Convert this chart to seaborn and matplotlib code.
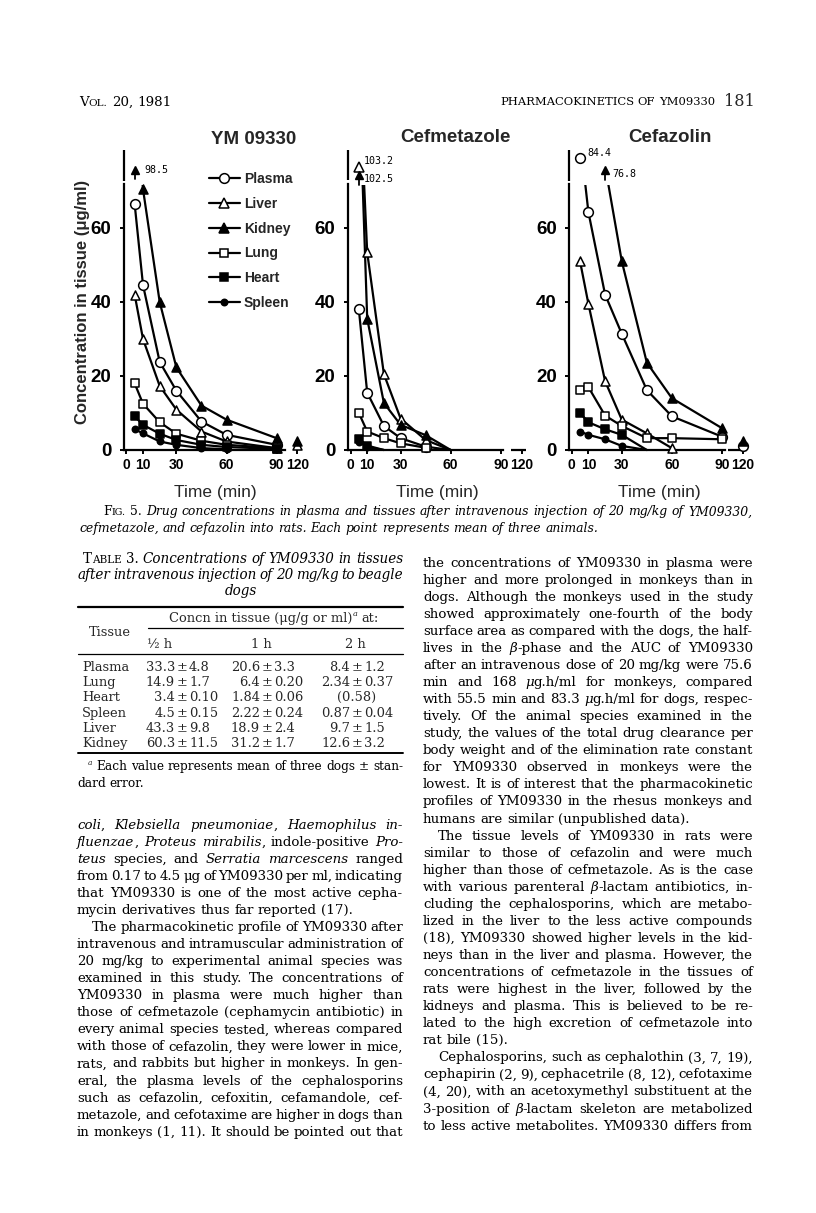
import re
import numpy as np
import pandas as pd
import matplotlib
matplotlib.use("Agg")
import matplotlib.pyplot as plt
from matplotlib.lines import Line2D
from matplotlib.patches import Rectangle
from matplotlib import font_manager
import seaborn as sns

# ------------------------------------------------------------------ data
times = [5, 10, 20, 30, 45, 60, 90, 120]
tissues = ["Plasma", "Liver", "Kidney", "Lung", "Heart", "Spleen"]
nan = np.nan

ym_plasma = [66.5, 44.6, 23.8, 16.0, 7.7, 4.1, 1.4, nan]
ym_liver = [42.0, 30.0, 17.3, 10.9, 5.0, 2.3, 0.5, 1.4]
ym_kidney = [98.5, 70.5, 40.0, 22.3, 12.0, 8.2, 3.2, 2.5]
ym_lung = [18.0, 12.5, 7.5, 4.4, 2.5, 1.4, 0.5, nan]
ym_heart = [9.1, 6.8, 4.4, 2.7, 1.4, 0.8, 0.3, nan]
ym_spleen = [5.6, 4.5, 2.3, 1.4, 0.5, 0.2, nan, nan]

cmz_plasma = [38.0, 15.5, 6.5, 3.2, 0.9, 0.0, nan, nan]
cmz_liver = [103.2, 53.4, 20.5, 8.5, 2.7, 0.0, nan, nan]
cmz_kidney = [102.5, 35.5, 12.7, 6.8, 4.0, 0.0, nan, nan]
cmz_lung = [10.0, 5.0, 3.2, 1.8, 0.6, nan, nan, nan]
cmz_heart = [3.0, 1.2, 0.0, nan, nan, nan, nan, nan]
cmz_spleen = [2.2, 0.8, 0.0, nan, nan, nan, nan, nan]

cfz_plasma = [84.4, 64.3, 42.0, 31.4, 16.2, 9.1, 3.6, 1.1]
cfz_liver = [51.0, 39.5, 18.6, 8.2, 4.5, 0.5, nan, nan]
cfz_kidney = [nan, nan, 76.8, 51.0, 23.6, 14.0, 5.9, 2.3]
cfz_lung = [16.2, 17.0, 9.3, 6.5, 3.2, 3.2, 2.9, nan]
cfz_heart = [10.0, 7.5, 5.6, 4.1, 0.0, nan, nan, nan]
cfz_spleen = [5.0, 4.1, 2.9, 1.1, 0.0, nan, nan, nan]

panel_titles = ["YM 09330", "Cefmetazole", "Cefazolin"]
panel_data = [
    dict(zip(tissues, [ym_plasma, ym_liver, ym_kidney, ym_lung, ym_heart, ym_spleen])),
    dict(zip(tissues, [cmz_plasma, cmz_liver, cmz_kidney, cmz_lung, cmz_heart, cmz_spleen])),
    dict(zip(tissues, [cfz_plasma, cfz_liver, cfz_kidney, cfz_lung, cfz_heart, cfz_spleen])),
]
x_ticks = [0, 10, 30, 60, 90, 120]
y_ticks = [0, 20, 40, 60]

tbl_rows = ["Plasma", "Lung", "Heart", "Spleen", "Liver", "Kidney"]
tbl_cols = ["½ h", "1 h", "2 h"]
tbl_half = ["33.3 ± 4.8", "14.9 ± 1.7", "3.4 ± 0.10", "4.5 ± 0.15", "43.3 ± 9.8", "60.3 ± 11.5"]
tbl_1h = ["20.6 ± 3.3", "6.4 ± 0.20", "1.84 ± 0.06", "2.22 ± 0.24", "18.9 ± 2.4", "31.2 ± 1.7"]
tbl_2h = ["8.4 ± 1.2", "2.34 ± 0.37", "(0.58)", "0.87 ± 0.04", "9.7 ± 1.5", "12.6 ± 3.2"]

left_col = [
    "*coli*, *Klebsiella pneumoniae*, *Haemophilus in-*",
    "*fluenzae*, *Proteus mirabilis*, indole-positive *Pro-*",
    "*teus* species, and *Serratia marcescens* ranged",
    "from 0.17 to 4.5 μg of YM09330 per ml, indicating",
    "that YM09330 is one of the most active cepha-",
    "mycin derivatives thus far reported (17).",
    "The pharmacokinetic profile of YM09330 after",
    "intravenous and intramuscular administration of",
    "20 mg/kg to experimental animal species was",
    "examined in this study. The concentrations of",
    "YM09330 in plasma were much higher than",
    "those of cefmetazole (cephamycin antibiotic) in",
    "every animal species tested, whereas compared",
    "with those of cefazolin, they were lower in mice,",
    "rats, and rabbits but higher in monkeys. In gen-",
    "eral, the plasma levels of the cephalosporins",
    "such as cefazolin, cefoxitin, cefamandole, cef-",
    "metazole, and cefotaxime are higher in dogs than",
    "in monkeys (1, 11). It should be pointed out that",
]
left_end = {5}
left_indent = {6}

right_col = [
    "the concentrations of YM09330 in plasma were",
    "higher and more prolonged in monkeys than in",
    "dogs. Although the monkeys used in the study",
    "showed approximately one-fourth of the body",
    "surface area as compared with the dogs, the half-",
    "lives in the *β*-phase and the AUC of YM09330",
    "after an intravenous dose of 20 mg/kg were 75.6",
    "min and 168 *μ*g.h/ml for monkeys, compared",
    "with 55.5 min and 83.3 *μ*g.h/ml for dogs, respec-",
    "tively. Of the animal species examined in the",
    "study, the values of the total drug clearance per",
    "body weight and of the elimination rate constant",
    "for YM09330 observed in monkeys were the",
    "lowest. It is of interest that the pharmacokinetic",
    "profiles of YM09330 in the rhesus monkeys and",
    "humans are similar (unpublished data).",
    "The tissue levels of YM09330 in rats were",
    "similar to those of cefazolin and were much",
    "higher than those of cefmetazole. As is the case",
    "with various parenteral *β*-lactam antibiotics, in-",
    "cluding the cephalosporins, which are metabo-",
    "lized in the liver to the less active compounds",
    "(18), YM09330 showed higher levels in the kid-",
    "neys than in the liver and plasma. However, the",
    "concentrations of cefmetazole in the tissues of",
    "rats were highest in the liver, followed by the",
    "kidneys and plasma. This is believed to be re-",
    "lated to the high excretion of cefmetazole into",
    "rat bile (15).",
    "Cephalosporins, such as cephalothin (3, 7, 19),",
    "cephapirin (2, 9), cephacetrile (8, 12), cefotaxime",
    "(4, 20), with an acetoxymethyl substituent at the",
    "3-position of *β*-lactam skeleton are metabolized",
    "to less active metabolites. YM09330 differs from",
]
right_end = {15, 28}
right_indent = {16, 29}

caption = [
    "F^IG.^ 5. *Drug concentrations in plasma and tissues after intravenous injection of 20 mg/kg of YM09330,*",
    "*cefmetazole, and cefazolin into rats. Each point represents mean of three animals.*",
]
table_title = [
    "T^ABLE^ 3. *Concentrations of YM09330 in tissues*",
    "*after intravenous injection of 20 mg/kg to beagle*",
    "*dogs*",
]
footnote = ["Each value represents mean of three dogs ± stan-", "dard error."]

# ------------------------------------------------------------------ setup
W, H = 816, 1213
sns.set_style("ticks")
plt.rcParams["font.family"] = ["DejaVu Sans"]
SERIF = ["DejaVu Serif"]
SANS = ["Liberation Sans", "DejaVu Sans"]
MONO = ["DejaVu Sans Mono"]
_names = {f.name for f in font_manager.fontManager.ttflist}
NARROW = ["Liberation Sans Narrow"] if "Liberation Sans Narrow" in _names else SANS

fig = plt.figure(figsize=(W / 100, H / 100), dpi=100)
fig.patch.set_facecolor("white")
renderer = fig.canvas.get_renderer()


def fx(x):
    return x / W


def fy(y):
    return 1 - y / H


# ------------------------------------------------------------------ panels
XSCALE, YSCALE = 1.67, 3.7
XLIM, YLIM = (-1.5, 106), (0, 81)
BREAK_LO = 71.6
zero_px = [126.3, 350.5, 571.7]
y0_px = 450
ax_w = (XLIM[1] - XLIM[0]) * XSCALE
ax_h = (YLIM[1] - YLIM[0]) * YSCALE


def tpos(t):
    return t if t <= 90 else 102.5


mstyle = {
    "Plasma": dict(marker="o", ms=7.0, fc="white"),
    "Liver": dict(marker="^", ms=6.5, fc="white"),
    "Kidney": dict(marker="^", ms=6.5, fc="black"),
    "Lung": dict(marker="s", ms=5.3, fc="white"),
    "Heart": dict(marker="s", ms=5.3, fc="black"),
    "Spleen": dict(marker="o", ms=4.6, fc="black"),
}

# off-scale decorations: (display y of symbol, display y of label, label x offset)
offscale = [
    {"Kidney": (75.8, 75.6, 6.0)},
    {"Liver": (76.6, 78.0, 3.0), "Kidney": (74.3, 73.2, 3.0)},
    {"Plasma": (78.8, 80.2, 4.5), "Kidney": (75.6, 74.6, 4.5)},
]
spine_top_seg = [(72.6, 81), (72.9, 81), (72.6, 81)]
xaxis_main_end = [95, 91.3, 91.9]
xaxis_extra = [None, (96.3, 105), (93.6, 105)]

axes = []
for i, (title, data) in enumerate(zip(panel_titles, panel_data)):
    left = zero_px[i] + XLIM[0] * XSCALE
    ax = fig.add_axes([fx(left), fy(y0_px), ax_w / W, ax_h / H])
    ax.set_facecolor("none")
    axes.append(ax)
    rows = []
    for tis in tissues:
        for t, v in zip(times, data[tis]):
            if not np.isnan(v):
                rows.append((tis, t, tpos(t), v, 0 if t <= 90 else 1))
    df = pd.DataFrame(rows, columns=["tissue", "time", "pos", "val", "seg"])
    sns.lineplot(data=df, x="pos", y="val", hue="tissue", units="seg",
                 estimator=None, palette={t: "black" for t in tissues},
                 legend=False, linewidth=1.6, ax=ax, sort=True)
    for ln in ax.lines:
        ln.set_clip_path(Rectangle((-10, -5), 130, 5 + BREAK_LO, transform=ax.transData))
    for tis in tissues:
        sub = df[(df.tissue == tis) & (df.val > 0) & (df.val <= BREAK_LO)]
        st = mstyle[tis]
        sns.scatterplot(x=sub.pos.values, y=sub.val.values, marker=st["marker"],
                        s=st["ms"] ** 2, color=st["fc"], edgecolor="black",
                        linewidth=1.1, ax=ax, zorder=5, clip_on=False, legend=False)
    # off-scale first values
    for tis, (ys, yl, dx) in offscale[i].items():
        vals = data[tis]
        k = next(j for j, v in enumerate(vals) if not np.isnan(v))
        xp, val = tpos(times[k]), vals[k]
        st = mstyle[tis]
        if tis == "Kidney":
            ax.plot([xp, xp], [ys - 2.6, ys], color="black", lw=1.3, clip_on=False)
            ax.plot([xp], [ys], marker="^", ms=5.5, color="black", clip_on=False)
        else:
            ax.plot([xp], [ys], marker=st["marker"], ms=st["ms"], mfc="white",
                    mec="black", mew=1.1, clip_on=False)
        ax.text(xp + dx, yl, f"{val}", fontsize=7.2, family=MONO, va="center",
                ha="left", color="black")
    ax.set_xlim(*XLIM)
    ax.set_ylim(*YLIM)
    ax.set_xticks([tpos(t) for t in x_ticks])
    ax.set_xticklabels([str(t) for t in x_ticks])
    ax.set_yticks(y_ticks)
    ax.set_yticklabels([str(v) for v in y_ticks])
    ax.set_xlabel("")
    ax.set_ylabel("")
    for s in ["top", "right"]:
        ax.spines[s].set_visible(False)
    for s in ["left", "bottom"]:
        ax.spines[s].set_linewidth(1.6)
        ax.spines[s].set_color("black")
    ax.spines["left"].set_bounds(0, BREAK_LO + 0.2)
    ax.spines["bottom"].set_bounds(XLIM[0], xaxis_main_end[i])
    lo, hi = spine_top_seg[i]
    ax.plot([XLIM[0], XLIM[0]], [lo, hi], color="black", lw=1.6, clip_on=False,
            solid_capstyle="butt")
    if xaxis_extra[i]:
        a, b = xaxis_extra[i]
        ax.plot([a, b], [0, 0], color="black", lw=1.6, clip_on=False,
                solid_capstyle="butt")
    ax.tick_params(axis="both", direction="out", length=3, width=1.4, colors="black")
    ax.tick_params(axis="x", pad=3)
    ax.tick_params(axis="y", pad=6)
    for lab in ax.get_xticklabels():
        lab.set_fontfamily(NARROW)
        lab.set_fontweight("bold")
        lab.set_fontsize(11.5 if NARROW is not SANS else 10)
    for lab in ax.get_yticklabels():
        lab.set_fontfamily(SANS)
        lab.set_fontweight("bold")
        lab.set_fontsize(13.5)

# legend
handles = [Line2D([], [], color="black", lw=1.6, marker=mstyle[t]["marker"],
                  markersize=mstyle[t]["ms"], markerfacecolor=mstyle[t]["fc"],
                  markeredgecolor="black", markeredgewidth=1.1) for t in tissues]
axes[0].legend(handles, tissues, loc="upper left", bbox_to_anchor=(fx(209), fy(172)),
               bbox_transform=fig.transFigure, frameon=False, borderpad=0,
               borderaxespad=0, handlelength=2.2, handletextpad=0.3,
               labelspacing=0.78, prop=dict(family=SANS, weight="bold", size=10))

# titles & labels
title_pos = [(254, 140), (455, 137), (670, 137)]
for (x, y), t in zip(title_pos, panel_titles):
    fig.text(fx(x), fy(y), t, ha="center", va="center", family=SANS,
             weight="bold", fontsize=13.5)
for x in [215, 437, 659]:
    fig.text(fx(x), fy(492), "Time (min)", ha="center", va="center", family=SANS,
             fontsize=12.5)
fig.text(fx(83), fy(302), "Concentration in tissue (μg/ml)", rotation=90,
         ha="center", va="center", family=SANS, weight="bold", fontsize=12)

# ------------------------------------------------------------------ text helpers
_cache = {}


def fkw(style, fs):
    if style == "i":
        return dict(family=SERIF, style="italic", size=fs)
    if style == "sc":
        return dict(family=SERIF, size=fs * 0.78)
    return dict(family=SERIF, size=fs)


def disp(s, style):
    return s.upper() if style == "sc" else s


def measure(s, style, fs):
    key = (s, style, round(fs, 3))
    if key not in _cache:
        t = fig.text(0, 0, disp(s, style), **fkw(style, fs))
        _cache[key] = t.get_window_extent(renderer).width
        t.remove()
    return _cache[key]


def space_w(fs):
    return measure("x x", "n", fs) - measure("xx", "n", fs)


def parse(line):
    words, cur = [], []
    it, sc = False, False
    for tok in re.split(r"([*^ ])", line):
        if tok == "*":
            it = not it
            continue
        if tok == "^":
            sc = not sc
            continue
        if tok == " ":
            if cur:
                words.append(cur)
                cur = []
            continue
        if tok == "":
            continue
        cur.append((tok, "i" if it else ("sc" if sc else "n")))
    if cur:
        words.append(cur)
    return words


def natural_width(line, fs, gapfac=1.0):
    words = parse(line)
    ws = [sum(measure(s, st, fs) for s, st in w) for w in words]
    return sum(ws) + gapfac * space_w(fs) * (len(words) - 1)


def draw_line(line, x0, x1, yc, fs, justify=True, center=False):
    words = parse(line)
    ws = [sum(measure(s, st, fs) for s, st in w) for w in words]
    sw = space_w(fs)
    if justify and len(words) > 1:
        gap = max(0.3 * sw, (x1 - x0 - sum(ws)) / (len(words) - 1))
    else:
        gap = sw
    total = sum(ws) + gap * (len(words) - 1)
    x = (x0 + x1) / 2 - total / 2 if center else x0
    base = yc + 0.27 * fs * 100 / 72
    for w, wd in zip(words, ws):
        for s, st in w:
            fig.text(fx(x), fy(base), disp(s, st), ha="left", va="baseline",
                     color="black", **fkw(st, fs))
            x += measure(s, st, fs)
        x += gap


def fit_size(lines, widths, base=10.0, gapfac=1.0):
    r = min(wd / natural_width(l, base, gapfac) for l, wd in zip(lines, widths))
    return base * r


# ------------------------------------------------------------------ header
fs_h = 9.6
draw_line("V^OL.^ 20, 1981", 79, 300, 102, fs_h, justify=False)
hdr = "PHARMACOKINETICS OF YM09330"
fs_hdr = fit_size([hdr], [212], 10)
draw_line(hdr, 500, 712, 102, fs_hdr, justify=False)
fig.text(fx(755), fy(106), "181", ha="right", va="baseline", family=SERIF, size=11.5)

# ------------------------------------------------------------------ caption
fs_cap = fit_size([caption[0]], [752 - 103], 10) * 0.995
draw_line(caption[0], 103, 752, 512, fs_cap, justify=True)
draw_line(caption[1], 79, 752, 529, fs_cap, justify=False)

# ------------------------------------------------------------------ body text
LX0, LX1 = 77, 403
RX0, RX1 = 423, 753
IND = 15
just_l = [l for k, l in enumerate(left_col) if k not in left_end]
just_r = [l for k, l in enumerate(right_col) if k not in right_end]
wl = [(LX1 - LX0 - (IND if left_col.index(l) in left_indent else 0)) for l in just_l]
wr = [(RX1 - RX0 - (IND if right_col.index(l) in right_indent else 0)) for l in just_r]
fs_body = min(10.4, fit_size(just_l + just_r, wl + wr, 10, gapfac=0.45) * 0.995)
PITCH = 17.06
for k, l in enumerate(left_col):
    x0 = LX0 + (IND if k in left_indent else 0)
    draw_line(l, x0, LX1, 825 + k * PITCH, fs_body, justify=k not in left_end)
for k, l in enumerate(right_col):
    x0 = RX0 + (IND if k in right_indent else 0)
    draw_line(l, x0, RX1, 563 + k * PITCH, fs_body, justify=k not in right_end)

# ------------------------------------------------------------------ table
fs_tt = min(10.4, fit_size(table_title[:2], [403 - 83, 403 - 78], 10, gapfac=0.6) * 0.995)
draw_line(table_title[0], 83, 403, 559, fs_tt, justify=True)
draw_line(table_title[1], 78, 403, 575, fs_tt, justify=True)
draw_line(table_title[2], 78, 403, 591, fs_tt, justify=False, center=True)

fs_t = fs_body * 0.97
TX0, TX1 = 78, 403


def hrule(y, x0=TX0, x1=TX1, lw=1.0):
    fig.add_artist(Line2D([fx(x0), fx(x1)], [fy(y), fy(y)], color="black", lw=lw))


hrule(606.5, lw=1.6)
hrule(628, x0=148, lw=0.9)
hrule(654, lw=0.9)
hrule(753, lw=1.4)

# header "Concn in tissue (μg/g or ml)^a at:"
h1 = "Concn in tissue (μg/g or ml)"
w1 = measure(h1, "n", fs_t)
wa = measure("a", "i", fs_t * 0.62)
w3 = measure("at:", "n", fs_t)
sw = space_w(fs_t)
tot = w1 + wa + sw + w3
hx = 274 - tot / 2
base = 618 + 0.27 * fs_t * 100 / 72
fig.text(fx(hx), fy(base), h1, ha="left", va="baseline", **fkw("n", fs_t))
fig.text(fx(hx + w1 + 0.5), fy(base - 6), "a", ha="left", va="baseline",
         **fkw("i", fs_t * 0.62))
fig.text(fx(hx + w1 + wa + sw), fy(base), "at:", ha="left", va="baseline", **fkw("n", fs_t))

fig.text(fx(89), fy(633 + 3.5), "Tissue", ha="left", va="baseline", **fkw("n", fs_t))
col_c = [160, 261, 355]
for c, lab in zip(col_c, tbl_cols):
    fig.text(fx(c), fy(644 + 3.5), lab, ha="center", va="baseline", **fkw("n", fs_t))

pm_x = [182, 267, 357]
row_y = [667, 682, 697, 713, 728, 743]
for r, (name, a, b, c) in enumerate(zip(tbl_rows, tbl_half, tbl_1h, tbl_2h)):
    yb = row_y[r] + 3.6
    fig.text(fx(TX0 + 4), fy(yb), name, ha="left", va="baseline", **fkw("n", fs_t))
    for px, cell in zip(pm_x, [a, b, c]):
        if "±" in cell:
            lpart, rpart = cell.split(" ± ")
            fig.text(fx(px - 7), fy(yb), lpart, ha="right", va="baseline", **fkw("n", fs_t))
            fig.text(fx(px), fy(yb), "±", ha="center", va="baseline", **fkw("n", fs_t))
            fig.text(fx(px + 7), fy(yb), rpart, ha="left", va="baseline", **fkw("n", fs_t))
        else:
            fig.text(fx(px), fy(yb), cell, ha="center", va="baseline", **fkw("n", fs_t))

# footnote
fs_fn = min(fs_t, fit_size([footnote[0]], [403 - 96], 10, gapfac=0.9) * 0.995)
fb = 767 + 0.27 * fs_fn * 100 / 72
fig.text(fx(88), fy(fb - 5), "a", ha="left", va="baseline", **fkw("i", fs_fn * 0.62))
draw_line(footnote[0], 96, 403, 767, fs_fn, justify=True)
draw_line(footnote[1], 77, 403, 784, fs_fn, justify=False)

fig.savefig("out.png", dpi=100, facecolor="white")
